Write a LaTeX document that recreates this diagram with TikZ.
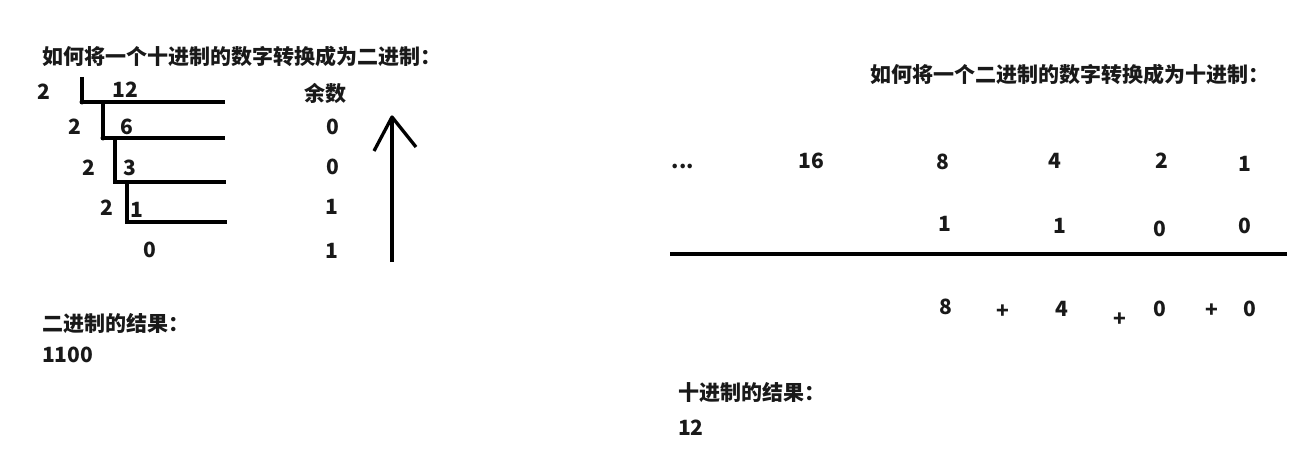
\documentclass[tikz,border=0pt]{standalone}
\usepackage{fontspec}
\setmainfont{Noto Sans CJK SC}
\begin{document}
\begin{tikzpicture}[x=1pt,y=-1pt,
  txt/.style={font=\bfseries\fontsize{21}{24}\selectfont, inner sep=0pt, text=black!90},
  pen/.style={line width=3.3pt, black},
  rule/.style={line width=4pt, black}]
\useasboundingbox[fill=white] (0,0) rectangle (1315,468);
% ---- left: decimal to binary
\node[txt, anchor=west] (tl) at (42,57) {如何将一个十进制的数字转换成为二进制：};
\node[txt] (a2) at (44,92) {2};
\node[txt] (a12) at (125,90) {12};
\node[txt] (b2) at (75,127) {2};
\node[txt] (b6) at (127,127) {6};
\node[txt] (c2) at (89,168) {2};
\node[txt] (c3) at (130,168) {3};
\node[txt] (d2) at (107,208) {2};
\node[txt] (d1) at (137,210) {1};
\node[txt] (e0) at (150,250) {0};
\node[txt] (rh) at (325,93) {余数};
\node[txt] (r1) at (333,127) {0};
\node[txt] (r2) at (333,167) {0};
\node[txt] (r3) at (332,207) {1};
\node[txt] (r4) at (332,251) {1};
\draw[pen] (82,77) -- (82,102) -- (225,102);
\draw[pen] (103,102) -- (103,138) -- (225,138);
\draw[pen] (115,138) -- (115,182) -- (226,182);
\draw[pen] (127,182) -- (127,222) -- (227,222);
\fill (82,102) circle (2.5);
\fill (103,138) circle (2.5);
\draw[pen] (392,262) -- (392,117);
\draw[pen, line join=round] (374,151) -- (392,117) -- (416,147);
\node[txt, anchor=west] (bl) at (42,324) {二进制的结果：};
\node[txt, anchor=west] (bv) at (42,355) {1100};
% ---- right: binary to decimal
\node[txt, anchor=east] (tr) at (1270,74) {如何将一个二进制的数字转换成为十进制：};
\node[txt] (dots) at (683,166) {...};
\node[txt] (p16) at (811,161) {16};
\node[txt] (p8) at (943,162) {8};
\node[txt] (p4) at (1055,161) {4};
\node[txt] (p2) at (1162,161) {2};
\node[txt] (p1) at (1245,164) {1};
\node[txt] (q1) at (945,224) {1};
\node[txt] (q2) at (1060,226) {1};
\node[txt] (q3) at (1160,229) {0};
\node[txt] (q4) at (1245,226) {0};
\draw[rule] (670,254) -- (1287,254);
\node[txt] (s8) at (946,307) {8};
\node[txt] (sp1) at (1003,312) {+};
\node[txt] (s4) at (1062,309) {4};
\node[txt] (sp2) at (1120,320) {+};
\node[txt] (s0a) at (1160,309) {0};
\node[txt] (sp3) at (1212,311) {+};
\node[txt] (s0b) at (1250,309) {0};
\node[txt, anchor=west] (br) at (678,393) {十进制的结果：};
\node[txt, anchor=west] (bv2) at (678,428) {12};
\end{tikzpicture}
\end{document}
